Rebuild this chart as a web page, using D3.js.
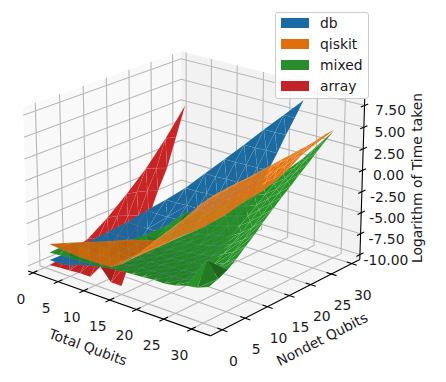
<!DOCTYPE html>
<html><head><meta charset="utf-8">
<style>html,body{margin:0;padding:0;background:#fff}svg{display:block}text{font-family:"DejaVu Sans";font-size:13.9px;fill:#1a1a1a}</style>
<script src="https://cdn.jsdelivr.net/npm/d3@7"></script></head><body>
<script>
const seriesNames=["db","qiskit","mixed","array"];
const xTicks=[0,5,10,15,20,25,30];
const yTicks=[0,5,10,15,20,25,30];
const zTicks=[-10,-7.5,-5,-2.5,0,2.5,5,7.5];
const totals=[1,3,5,7,9,11,13,15,17,19,21,23,25,27,29,31];
const nondets=[0,2,4,6,8,10,12,14,16,18,20,22,24,26,28,30];
const arrayZ=[
[-10.1],[-10,-8.8],[-9.9,-8.6,-7.1],[-9.8,-8.2,-6.6,-4.7],[-9.8,-7.8,-6,-4.1,-2],
[-8.2,-7.6,-5.6,-3.7,-1.4,.9],[-9.6,-7.3,-5.2,-3.3,-.9,1.3,4.3],[-9.6,-7,-4.9,-3,-.5,1.7,4.8,8]];
const dbZ=[
[-9.5],[-9.5,-8.6],[-9.3,-8.6,-7.5],[-8.8,-8.3,-7.5,-6.4],[-8.5,-8.2,-7.5,-6.4,-5.3],
[-8.2,-8,-7.5,-6.4,-5.3,-4],[-7.8,-7.6,-7.4,-6.4,-5.3,-4,-2.8],
[-7.5,-7.3,-7.2,-6.3,-5.2,-4,-2.8,-1.5],[-7.4,-7.2,-7,-6.3,-5.2,-3.9,-2.7,-1.5,.1],
[-7.3,-7.1,-6.9,-6.3,-5.2,-3.9,-2.7,-1.4,.1,1.7],[-7.2,-7,-6.8,-6.2,-5.1,-3.9,-2.7,-1.4,.2,1.7,3.3],
[-7.2,-6.9,-6.7,-6.2,-5.1,-3.8,-2.6,-1.4,.2,1.8,3.3,5],[-7,-6.8,-6.5,-6.1,-5,-3.8,-2.6,-1.3,.2,1.8,3.4,5,6.6],
[-6.6,-6.5,-6.2,-5.7,-5,-3.7,-2.5,-1.3,.3,1.9,3.4,5.1,6.6,8.2]];
const mixedZ=[
[-8.6],[-8.5,-7.6],[-8.4,-8.2,-7.6],[-8.4,-8.1,-7.9,-7.6],[-8.3,-8.1,-7.8,-7.7,-7.6],
[-8.2,-8,-7.8,-7.7,-7.5,-6.8],[-8,-7.9,-7.7,-7.5,-7.3,-7,-5.9],[-7.9,-7.7,-7.5,-7.3,-7.1,-6.7,-5.6,-4.4],
[-7.8,-7.6,-7.4,-7.2,-6.9,-6.5,-6,-5.5,-4.4],[-7.7,-7.5,-7.3,-7.1,-6.7,-6.2,-5.7,-5.1,-4.6,-3.6],
[-7.6,-7.4,-7.2,-6.9,-6.5,-6,-5.4,-4.8,-4.1,-3.5,-2.9],[-7.6,-7.3,-7.1,-6.7,-6.3,-5.7,-5,-4.4,-3.7,-3,-2.2,-1.5],
[-7.4,-7.2,-6.9,-6.5,-6,-5.3,-4.7,-4,-3.3,-2.5,-1.7,-.9,-.1],[-7,-6.9,-6.6,-6.1,-5.4,-4.7,-3.9,-3.1,-2.2,-1.4,-.7,.1,.8,1.5],
[-6.8,-4.2,-6.1,-5.5,-4.7,-3.8,-2.9,-2,-1.1,-.3,.6,1.3,2.1,2.9],
[-6.3,-5.9,-5.4,-4.6,-3.7,-2.8,-1.8,-.9,0,.8,1.7,2.5,3.4,4.2,5]];
const qiskitZ=[
[-7.6],[-7.7,-7.5],[-7.8,-7.6,-7.5],[-7.9,-7.6,-7.5,-7.5],[-7.9,-7.7,-7.5,-7.4,-7.4],
[-7.9,-7.7,-7.6,-7.6,-7.5,-7.5],[-7.8,-7.7,-7.7,-7.7,-7.7,-7.7,-7.7],[-7.1,-7,-7,-7,-7,-7,-7,-7],
[-6,-5.9,-5.9,-5.9,-6,-6,-6,-6.1,-6.1],[-4.7,-4.5,-4.5,-4.6,-4.7,-4.7,-4.8,-4.8,-4.9,-4.9],
[-3.3,-3.1,-3.1,-3.1,-3.2,-3.2,-3.3,-3.3,-3.3,-3.4,-3.4],[-2,-1.8,-1.7,-1.7,-1.8,-1.8,-1.9,-1.9,-2,-2,-2.1,-2.1],
[-.7,-.4,-.3,-.3,-.3,-.3,-.3,-.3,-.3,-.3,-.3,-.3,-.3],[.7,.9,1.1,1.2,1.2,1.2,1.2,1.3,1.3,1.4,1.5,1.6,1.8,2],
[2.2,2.5,2.7,2.8,2.9,2.9,2.9,2.9,3,3.1,3.1,3.2,3.3,3.4],
[3.4,3.5,3.6,3.7,3.8,3.9,4.1,4.2,4.3,4.4,4.5,4.6,4.8,5,5.1]];
const seriesColors=["#1f77b4","#ff7f0e","#2ca02c","#d62728"];
const legendColors=["#1b6aa2","#e06e0c","#2a8c2c","#c32327"];

const W=446,H=382;
const xD=[-1,33.4],yD=[-2.5,32],zD=[-10.6,8.4];
const sx=d3.scaleLinear(xD,[-.5,.5]),sy=d3.scaleLinear(yD,[-.5,.5]),sz=d3.scaleLinear(zD,[-.365,.365]);
const elev=21*Math.PI/180,azim=-50*Math.PI/180,D=8.75,S=239,CX=195,CY=185;
const U=[-Math.sin(azim),Math.cos(azim),0];
const V=[-Math.sin(elev)*Math.cos(azim),-Math.sin(elev)*Math.sin(azim),Math.cos(elev)];
const N=[Math.cos(elev)*Math.cos(azim),Math.cos(elev)*Math.sin(azim),Math.sin(elev)];
const dot=(a,b)=>a[0]*b[0]+a[1]*b[1]+a[2]*b[2];
function depth(x,y,z){return dot([sx(x),sy(y),sz(z)],N);}
function proj(x,y,z){const p=[sx(x),sy(y),sz(z)],w=1-dot(p,N)/D;return [CX+S*dot(p,U)/w,CY-S*dot(p,V)/w];}

const svg=d3.select("body").append("svg").attr("width",W).attr("height",H);
const line=d3.line();
const [x0,x1]=xD,[y0,y1]=yD,[z0,z1]=zD;
const pane=(pts,f)=>svg.append("path").attr("d",line(pts.map(p=>proj(...p)))+"Z").attr("fill",f);
pane([[x0,y0,z0],[x0,y1,z0],[x0,y1,z1],[x0,y0,z1]],"#f9f9f9");
pane([[x0,y1,z0],[x1,y1,z0],[x1,y1,z1],[x0,y1,z1]],"#f2f2f2");
pane([[x0,y0,z0],[x1,y0,z0],[x1,y1,z0],[x0,y1,z0]],"#f5f5f5");
const grid=(pts)=>svg.append("path").attr("d",line(pts.map(p=>proj(...p)))).attr("fill","none").attr("stroke","#b8b8b8").attr("stroke-width",1.1);
xTicks.forEach(t=>grid([[t,y0,z0],[t,y1,z0],[t,y1,z1]]));
yTicks.forEach(t=>grid([[x1,t,z0],[x0,t,z0],[x0,t,z1]]));
zTicks.forEach(t=>grid([[x0,y0,t],[x0,y1,t],[x1,y1,t]]));
const ax=(pts)=>svg.append("path").attr("d",line(pts.map(p=>proj(...p)))).attr("fill","none").attr("stroke","#000").attr("stroke-width",1.1);
ax([[x0,y0,z0],[x1,y0,z0]]);ax([[x1,y0,z0],[x1,y1,z0]]);ax([[x1,y1,z0],[x1,y1,z1]]);
const label=(p,dx,dy,s)=>svg.append("text").attr("x",p[0]+dx).attr("y",p[1]+dy).attr("text-anchor","middle").attr("dominant-baseline","central").text(s);
xTicks.forEach(t=>{ax([[t,y0-.9,z0],[t,y0+.9,z0]]);label(proj(t,y0,z0),-12,26,t);});
yTicks.forEach(t=>{ax([[x1+.9,t,z0],[x1-.9,t,z0]]);label(proj(x1,t,z0),11,31,t);});
zTicks.forEach(t=>{ax([[x1,y1+.9,t],[x1,y1-.9,t]]);label(proj(x1,y1,t),26,5,t.toFixed(2));});
function surface(zRows,color,op){
  const pts=[];
  zRows.forEach((row,i)=>row.forEach((z,j)=>pts.push([totals[i],nondets[j],z])));
  const del=d3.Delaunay.from(pts.map(p=>[p[0],p[1]]));
  const tris=[];
  for(let i=0;i<del.triangles.length;i+=3){
    const t=[pts[del.triangles[i]],pts[del.triangles[i+1]],pts[del.triangles[i+2]]];
    const a=[t[1][0]-t[0][0],t[1][1]-t[0][1],t[1][2]-t[0][2]],b=[t[2][0]-t[0][0],t[2][1]-t[0][1],t[2][2]-t[0][2]];
    let n=[a[1]*b[2]-a[2]*b[1],a[2]*b[0]-a[0]*b[2],a[0]*b[1]-a[1]*b[0]];
    const L=Math.hypot(...n)||1;n=n.map(v=>v/L);if(n[2]<0)n=n.map(v=>-v);
    const shade=.3+.7*((dot(n,[-.667,-.667,.3333])+1)/2);
    const c=d3.rgb(color);
    tris.push({d:d3.mean(t,p=>depth(...p)),path:line(t.map(p=>proj(...p)))+"Z",fill:d3.rgb(c.r*shade,c.g*shade,c.b*shade).formatHex()});
  }
  tris.sort((p,q)=>p.d-q.d);
  svg.append("g").selectAll("path").data(tris).join("path").attr("d",d=>d.path).attr("fill",d=>d.fill).attr("fill-opacity",op).attr("stroke","#fff").attr("stroke-opacity",.1).attr("stroke-width",.5);
}
surface(arrayZ,seriesColors[3],1);
surface(dbZ,seriesColors[0],1);
surface(mixedZ,seriesColors[2],1);
surface(qiskitZ,seriesColors[1],1);
const rotText=(x,y,r,s)=>svg.append("text").attr("transform",`translate(${x},${y}) rotate(${r})`).attr("text-anchor","middle").attr("dominant-baseline","central").text(s);
rotText(88,347,20,"Total Qubits");
rotText(322,339,-27,"Nondet Qubits");
rotText(417,178,-90,"Logarithm of Time taken");
const lg=svg.append("g");
lg.append("rect").attr("x",275.5).attr("y",12.5).attr("width",93).attr("height",86).attr("rx",2.5).attr("fill","#fff").attr("fill-opacity",.8).attr("stroke","#ccc").attr("stroke-width",1);
seriesNames.forEach((s,i)=>{
  lg.append("rect").attr("x",281).attr("y",18+i*21).attr("width",28).attr("height",10).attr("fill",legendColors[i]);
  lg.append("text").attr("x",320).attr("y",23+i*21).attr("dominant-baseline","central").text(s);
});
</script></body></html>
